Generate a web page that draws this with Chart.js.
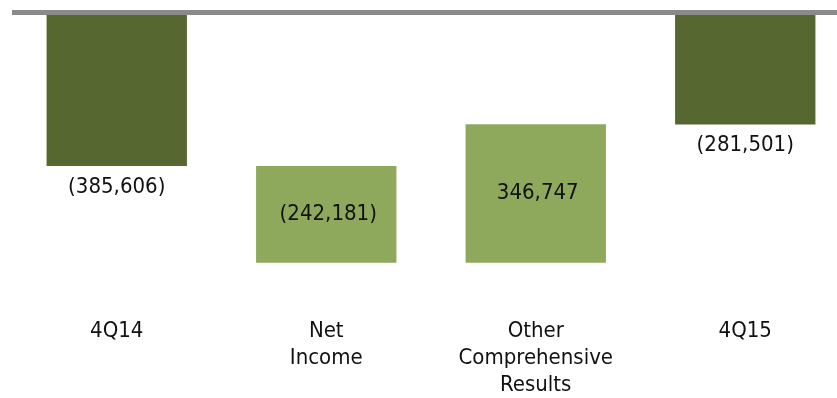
<html>
<head>
    <title>4Q14 - 4Q15</title>
    <script src="https://cdn.jsdelivr.net/npm/chart.js@4.4.0/dist/chart.umd.min.js"></script>
    <style>
        body { margin: 0; overflow: hidden; background: #fff; }
        #wrap { width: 850px; height: 398px; overflow: hidden; }
    </style>
</head>
<body>
<div id="wrap">
    <canvas id="bridgeChart" width="850" height="412"></canvas>
</div>

<script>
  // values
  const categories = [['4Q14'], ['Net', 'Income'], ['Other', 'Comprehensive', 'Results'], ['4Q15']]
  const amounts = [-385606, -242181, 346747, -281501]
  const isTotal = [true, false, false, true]

  const darkGreen = '#566830'
  const lightGreen = '#8fa95c'

  // build floating bars: totals start at 0, changes start where previous bar ended
  let ranges = []
  let level = 0
  for (let i = 0; i < amounts.length; i++) {
    if (isTotal[i]) {
      ranges.push([0, amounts[i]])
      level = amounts[i]
    } else {
      ranges.push([level, level + amounts[i]])
      level = level + amounts[i]
    }
  }

  function fmt(v) {
    let s = Math.abs(v).toLocaleString('en-US')
    return v < 0 ? '(' + s + ')' : s
  }

  const valueLabels = {
    id: 'valueLabels',
    afterDatasetsDraw(chart) {
      const ctx = chart.ctx
      const meta = chart.getDatasetMeta(0)
      ctx.save()
      ctx.font = '22px "DejaVu Sans Condensed", "DejaVu Sans"'
      ctx.fillStyle = '#111'
      ctx.textAlign = 'center'
      ctx.textBaseline = 'middle'
      meta.data.forEach(function (bar, i) {
        let top = Math.min(bar.y, bar.base)
        let bottom = Math.max(bar.y, bar.base)
        let y = isTotal[i] ? bottom + 21 : (top + bottom) / 2
        ctx.fillText(fmt(amounts[i]), bar.x + (isTotal[i] ? 0 : 2), y)
      })
      ctx.restore()
    }
  }

  new Chart(document.getElementById('bridgeChart'), {
    type: 'bar',
    data: {
      labels: categories,
      datasets: [{
        data: ranges,
        backgroundColor: isTotal.map(t => t ? darkGreen : lightGreen),
        borderWidth: 0,
        barPercentage: 0.67,
        categoryPercentage: 1
      }]
    },
    options: {
      responsive: false,
      animation: false,
      layout: { padding: { top: 12, left: 12, right: 0, bottom: 0 } },
      plugins: { legend: { display: false }, tooltip: { enabled: false } },
      scales: {
        x: {
          grid: { display: false },
          border: { display: false },
          ticks: {
            color: '#111',
            padding: 13,
            maxRotation: 0,
            font: { family: '"DejaVu Sans Condensed", "DejaVu Sans"', size: 22, lineHeight: 1.23 }
          }
        },
        y: {
          min: -713000,
          max: 0,
          ticks: { display: false },
          border: { display: false },
          grid: {
            z: 1,
            drawTicks: false,
            lineWidth: 5,
            color: ctx => ctx.tick && ctx.tick.value === 0 ? '#8a8a8a' : 'rgba(0,0,0,0)'
          }
        }
      }
    },
    plugins: [valueLabels]
  })
</script>
</body>
</html>
